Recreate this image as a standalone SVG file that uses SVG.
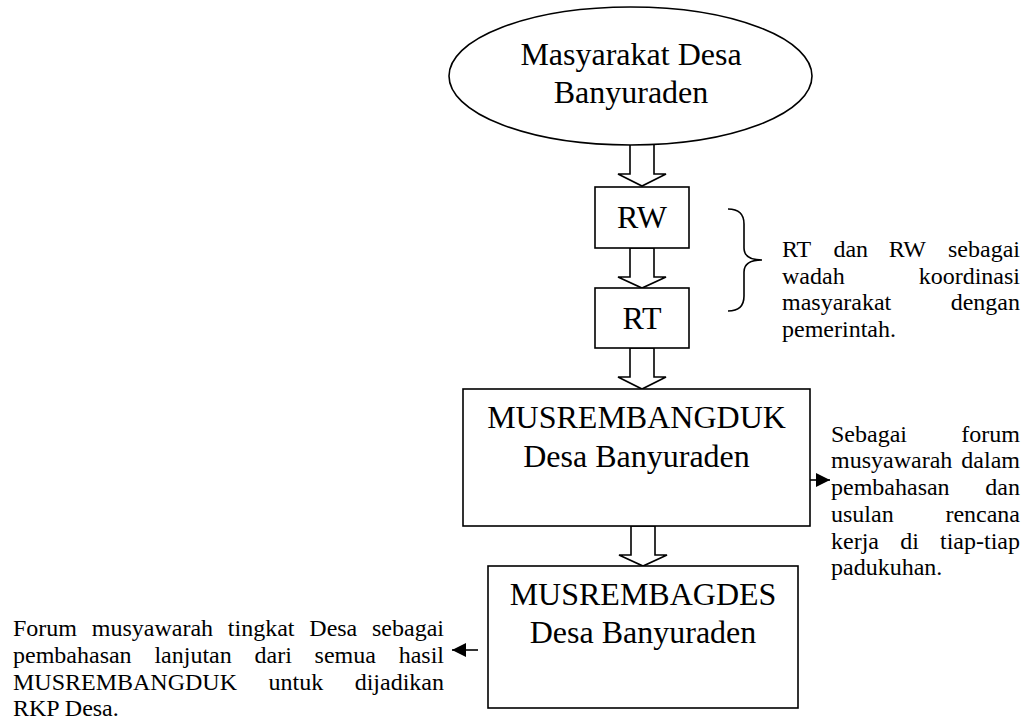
<svg xmlns="http://www.w3.org/2000/svg" width="1028" height="723" viewBox="0 0 1028 723">
<style>
.shape{fill:#fff;stroke:#000;stroke-width:1.6}
.big{font-family:"Liberation Serif","Times New Roman",serif;font-size:32px;fill:#000;text-anchor:middle}
.small{font-family:"Liberation Serif","Times New Roman",serif;font-size:24px;fill:#000}
.e{text-anchor:end}
.hollow{fill:#fff;stroke:#000;stroke-width:1.6;stroke-linejoin:miter}
.line{fill:none;stroke:#000;stroke-width:1.6}
</style>
<defs>
<marker id="ah" viewBox="0 0 14 14" refX="14" refY="7" markerWidth="14" markerHeight="14" markerUnits="userSpaceOnUse" orient="auto">
<path d="M0,0 L14,7 L0,14 z" fill="#000"/>
</marker>
</defs>
<rect width="1028" height="723" fill="#fff"/>

<g id="connectors">
<path class="hollow" d="M630,144 L654,144 L654,174 L666,174 L642,186 L618,174 L630,174 Z"/>
<path class="hollow" d="M630,248 L654,248 L654,277 L666,277 L642,288 L618,277 L630,277 Z"/>
<path class="hollow" d="M630,348 L654,348 L654,377 L666,377 L642,389 L618,377 L630,377 Z"/>
<path class="hollow" d="M631,526 L655,526 L655,555 L667,555 L643,566 L619,555 L631,555 Z"/>
<line class="line" x1="810" y1="480" x2="830" y2="480" marker-end="url(#ah)"/>
<line class="line" x1="478" y1="650" x2="452" y2="650" marker-end="url(#ah)"/>
</g>

<g id="node-masyarakat">
<ellipse class="shape" cx="630.5" cy="76" rx="181.5" ry="69"/>
<text class="big" x="631" y="65">Masyarakat Desa</text>
<text class="big" x="631" y="103">Banyuraden</text>
</g>

<g id="node-rw">
<rect class="shape" x="595" y="187" width="94" height="61"/>
<text class="big" x="642" y="228">RW</text>
</g>

<g id="node-rt">
<rect class="shape" x="595" y="288" width="94" height="60"/>
<text class="big" x="642" y="329">RT</text>
</g>

<g id="node-musrembangduk">
<rect class="shape" x="463" y="389" width="347" height="137"/>
<text class="big" x="636.5" y="428">MUSREMBANGDUK</text>
<text class="big" x="636.5" y="467">Desa Banyuraden</text>
</g>

<g id="node-musrembagdes">
<rect class="shape" x="488" y="566" width="310" height="142"/>
<text class="big" x="643" y="605">MUSREMBAGDES</text>
<text class="big" x="643" y="643">Desa Banyuraden</text>
</g>

<g id="brace">
<path class="line" d="M728,209 Q744,209 744,224 L744,248 Q744,260 762,260 Q744,260 744,272 L744,296 Q744,311 728,311"/>
</g>

<g id="note-rt-rw">
<text class="small" y="257"><tspan x="782">RT</tspan><tspan x="833.4">dan</tspan><tspan x="888.7">RW</tspan></text>
<text class="small e" x="1020" y="257">sebagai</text>
<text class="small" x="782" y="284">wadah</text>
<text class="small e" x="1020" y="284">koordinasi</text>
<text class="small" x="782" y="310">masyarakat</text>
<text class="small e" x="1020" y="310">dengan</text>
<text class="small" x="782" y="337">pemerintah.</text>
</g>

<g id="note-musrembangduk">
<text class="small" x="831" y="442">Sebagai</text>
<text class="small e" x="1020" y="442">forum</text>
<text class="small" x="831" y="468">musyawarah</text>
<text class="small e" x="1020" y="468">dalam</text>
<text class="small" x="831" y="495">pembahasan</text>
<text class="small e" x="1020" y="495">dan</text>
<text class="small" x="831" y="522">usulan</text>
<text class="small e" x="1020" y="522">rencana</text>
<text class="small" y="549"><tspan x="831">kerja</tspan><tspan x="900.2">di</tspan></text>
<text class="small e" x="1020" y="549">tiap-tiap</text>
<text class="small" x="831" y="575">padukuhan.</text>
</g>

<g id="note-musrembagdes">
<text class="small" y="636"><tspan x="13">Forum</tspan><tspan x="91.8">musyawarah</tspan><tspan x="227.8">tingkat</tspan><tspan x="309.3">Desa</tspan></text>
<text class="small e" x="444" y="636">sebagai</text>
<text class="small" y="663"><tspan x="13">pembahasan</tspan><tspan x="154.4">lanjutan</tspan><tspan x="254.5">dari</tspan><tspan x="314.6">semua</tspan></text>
<text class="small e" x="444" y="663">hasil</text>
<text class="small" y="690"><tspan x="13">MUSREMBANGDUK</tspan><tspan x="268.5">untuk</tspan></text>
<text class="small e" x="444" y="690">dijadikan</text>
<text class="small" x="13" y="716">RKP Desa.</text>
</g>
</svg>
